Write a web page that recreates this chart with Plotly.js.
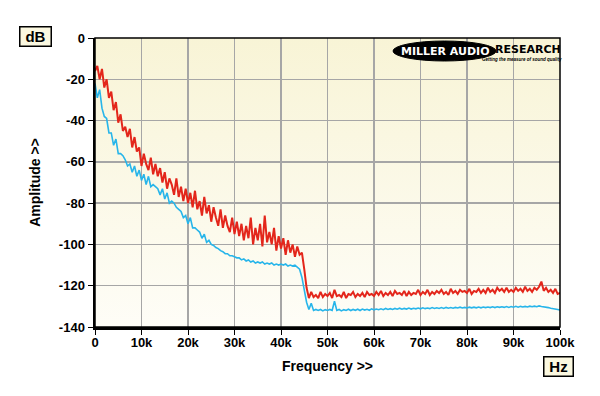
<!DOCTYPE html>
<html>
<head>
<meta charset="utf-8">
<script src="https://cdn.plot.ly/plotly-3.0.1.min.js"></script>
<style>
html,body{margin:0;padding:0;background:#ffffff;}
#chart{width:600px;height:396px;}
</style>
</head>
<body>
<div id="chart"></div>
<script>
// Frequency grid step (Hz) used for both traces
var stepHz = 500;

// Red trace (dB), one value every 0.5 kHz from 0 to 100 kHz
var redDb = [
-16,-13.5,-20,-15,-24,-20,-29,-26,-35,-31,
-41,-37,-45,-43,-48,-44,-53,-48,-55,-53,
-62,-56,-61,-64,-58,-66,-61,-67,-63,-70,
-65,-73,-68,-71,-76,-68,-77,-72,-79,-73,
-80,-75,-82,-74,-83,-79,-86,-77,-85,-81,
-89,-82,-87,-91,-83,-92,-86,-91,-94,-87,
-95,-89,-96,-90,-98,-91,-97,-87,-100,-92,
-98,-90,-101,-86,-99,-94,-100,-92,-103,-96,
-102,-97,-105,-98,-104,-100,-106,-101,-105,-104,
-112,-121,-126,-123,-125.5,-124.5,-126,-123,-125.5,-124,
-125,-123.5,-126,-122,-125,-124.5,-125.5,-123,-126,-124,
-124.5,-123,-125.5,-124,-125,-123.5,-125.5,-123,-124.5,-124,
-125,-123,-124.5,-122.5,-125,-123.5,-124.5,-123,-125,-122.5,
-124,-123.5,-124.5,-122.5,-125,-123,-124.5,-123.5,-124,-122,
-124.5,-123,-124,-122,-124.5,-123,-124,-122.5,-123.5,-122,
-124,-123,-124.5,-121.5,-123.5,-122.5,-124,-122,-123,-122.5,
-123.5,-121.5,-124,-122.5,-123,-121.5,-123.5,-122,-123.5,-121,
-123,-122,-123.5,-121,-122.5,-121.5,-123,-121,-123,-122,
-123,-121,-122.5,-121.5,-123,-120.5,-122.5,-121.5,-123,-121,
-122,-120.5,-118,-122.5,-121,-123,-122,-123.5,-121.5,-124,
-123.5
];

// Blue trace (dB), same frequency grid
var blueDb = [
-22,-29,-25,-34,-38,-39,-46,-46,-52,-49,
-56,-56,-57,-59,-62,-61,-65,-62,-67,-64,
-69,-66,-71,-67,-72,-71,-72,-73,-76,-73,
-78,-75,-80,-79,-80,-82,-83,-84,-87,-86,
-90,-87,-92,-92,-93,-94,-97,-95,-99,-98,
-100,-100.5,-101.5,-102,-103,-103.5,-104.5,-104.5,-105.5,-105.5,
-106,-106.5,-106.5,-107.5,-107,-108,-107.5,-108.5,-108,-109,
-108.5,-109,-108.5,-109.5,-109,-109.5,-109,-110,-109.5,-110,
-109.5,-110,-109.5,-110.5,-110,-110.5,-110,-111,-112,-116,
-123,-128,-131.5,-128.5,-132,-131.5,-132,-131.5,-132.2,-131.6,
-132,-131.5,-132,-127.5,-132,-131.5,-132.2,-131.6,-132,-131.4,
-132,-131.5,-131.9,-131.4,-132,-131.3,-131.8,-131.4,-131.9,-131.2,
-131.7,-131.3,-131.6,-131.2,-131.6,-131,-131.5,-131.1,-131.5,-131,
-131.4,-130.9,-131.4,-131,-131.3,-130.8,-131.3,-130.9,-131.2,-130.8,
-131.2,-130.7,-131.1,-130.8,-131.1,-130.6,-131,-130.7,-131,-130.6,
-131,-130.5,-130.9,-130.6,-130.9,-130.5,-130.8,-130.4,-130.8,-130.5,
-130.8,-130.4,-130.7,-130.4,-130.7,-130.3,-130.7,-130.3,-130.6,-130.3,
-130.6,-130.2,-130.6,-130.2,-130.5,-130.2,-130.5,-130.1,-130.5,-130.1,
-130.4,-130,-130.4,-130,-130.3,-130,-130.3,-129.9,-130.2,-129.9,
-130.2,-129.8,-130.1,-130.2,-130.5,-130.6,-130.9,-131,-131.3,-131.5,
-131.8
];

// Axis ticks
var xTickVals = [0,10000,20000,30000,40000,50000,60000,70000,80000,90000,100000];
var xTickText = ["0","10k","20k","30k","40k","50k","60k","70k","80k","90k","100k"];
var yTickVals = [0,-20,-40,-60,-80,-100,-120,-140];
var yTickText = ["0","-20","-40","-60","-80","-100","-120","-140"];

var freqHz = redDb.map(function(_, i){ return i * stepHz; });

var FONT = "Liberation Sans, Arial, sans-serif";

var traces = [
  {x: freqHz, y: blueDb, type: 'scatter', mode: 'lines',
   line: {color: '#27b5ea', width: 1.6}, hoverinfo: 'skip', showlegend: false},
  {x: freqHz, y: redDb, type: 'scatter', mode: 'lines',
   line: {color: '#e3261b', width: 2}, hoverinfo: 'skip', showlegend: false}
];

var gradSvg = '<svg xmlns="http://www.w3.org/2000/svg" width="10" height="100" preserveAspectRatio="none">' +
  '<defs><linearGradient id="g" x1="0" y1="0" x2="0" y2="1">' +
  '<stop offset="0" stop-color="#f8f4d6"/><stop offset="1" stop-color="#fefdf7"/>' +
  '</linearGradient></defs><rect width="10" height="100" fill="url(#g)"/></svg>';

var L = 95, R = 560, T = 38, B = 327;
function px(x){ return (x - L) / (R - L); }
function py(y){ return (B - y) / (B - T); }

var layout = {
  width: 600, height: 396,
  margin: {l: 95, r: 40, t: 38, b: 69},
  paper_bgcolor: '#ffffff',
  plot_bgcolor: 'rgba(0,0,0,0)',
  font: {family: FONT, color: '#000000'},
  xaxis: {
    range: [0, 100000], tickvals: xTickVals, ticktext: xTickText,
    showgrid: true, gridcolor: '#a6a6a6', gridwidth: 1.5,
    zeroline: false, showline: true, linecolor: '#000000', linewidth: 2.5,
    ticks: 'outside', ticklen: 5, tickwidth: 1, tickcolor: '#000000',
    ticklabelstandoff: -3,
    tickfont: {family: FONT, size: 13, weight: 'bold', color: '#000000'},
    title: {text: 'Frequency >>', font: {family: FONT, size: 14, weight: 'bold', color: '#000000'}, standoff: 12},
    fixedrange: true
  },
  yaxis: {
    range: [-140, 0], tickvals: yTickVals, ticktext: yTickText,
    showgrid: true, gridcolor: '#a6a6a6', gridwidth: 1.5,
    zeroline: false, showline: true, linecolor: '#000000', linewidth: 2.5,
    ticks: 'outside', ticklen: 5, tickwidth: 1, tickcolor: '#000000',
    tickfont: {family: FONT, size: 13, weight: 'bold', color: '#000000'},
    title: {text: 'Amplitude >>', font: {family: FONT, size: 14, weight: 'bold', color: '#000000'}, standoff: 15},
    fixedrange: true
  },
  images: [{
    source: 'data:image/svg+xml;charset=utf-8,' + encodeURIComponent(gradSvg),
    xref: 'paper', yref: 'paper', x: 0, y: 1, sizex: 1, sizey: 1,
    xanchor: 'left', yanchor: 'top', sizing: 'stretch', layer: 'below'
  }],
  shapes: [
    {type: 'rect', xref: 'paper', yref: 'paper', x0: 0, x1: 1, y0: 0, y1: 1,
     line: {color: '#000000', width: 1.5}, fillcolor: 'rgba(0,0,0,0)', layer: 'above'},
    {type: 'circle', xref: 'paper', yref: 'paper', x0: px(393), x1: px(496), y0: py(61), y1: py(41),
     line: {color: '#000000', width: 1}, fillcolor: '#000000', layer: 'above'}
  ],
  annotations: [
    {text: 'dB', xref: 'paper', yref: 'paper', x: px(35.5), y: py(37), xanchor: 'center', yanchor: 'middle', showarrow: false,
     font: {family: FONT, size: 15, weight: 'bold', color: '#000000'},
     bgcolor: '#fbf8e0', bordercolor: '#000000', borderwidth: 1.5, width: 28, height: 16, borderpad: 1},
    {text: 'Hz', xref: 'paper', yref: 'paper', x: px(558), y: py(367), xanchor: 'center', yanchor: 'middle', showarrow: false,
     font: {family: FONT, size: 15, weight: 'bold', color: '#000000'},
     bgcolor: '#fbf8e0', bordercolor: '#000000', borderwidth: 1.5, width: 26, height: 16, borderpad: 1},
    {text: 'MILLER AUDIO', xref: 'paper', yref: 'paper', x: px(445), y: py(51), xanchor: 'center', yanchor: 'middle', showarrow: false,
     font: {family: 'DejaVu Sans, sans-serif', size: 11, weight: 'bold', color: '#ffffff'}},
    {text: 'RESEARCH', xref: 'paper', yref: 'paper', x: px(528), y: py(50), xanchor: 'center', yanchor: 'middle', showarrow: false,
     font: {family: 'DejaVu Sans, sans-serif', size: 11, weight: 'bold', color: '#000000'}},
    {text: '<i>Getting the measure of sound quality</i>', xref: 'paper', yref: 'paper', x: px(522), y: py(59), xanchor: 'center', yanchor: 'middle', showarrow: false,
     font: {family: FONT, size: 4.5, weight: 'bold', color: '#000000'}}
  ]
};

Plotly.newPlot('chart', traces, layout, {staticPlot: true, displayModeBar: false});
</script>
</body>
</html>
